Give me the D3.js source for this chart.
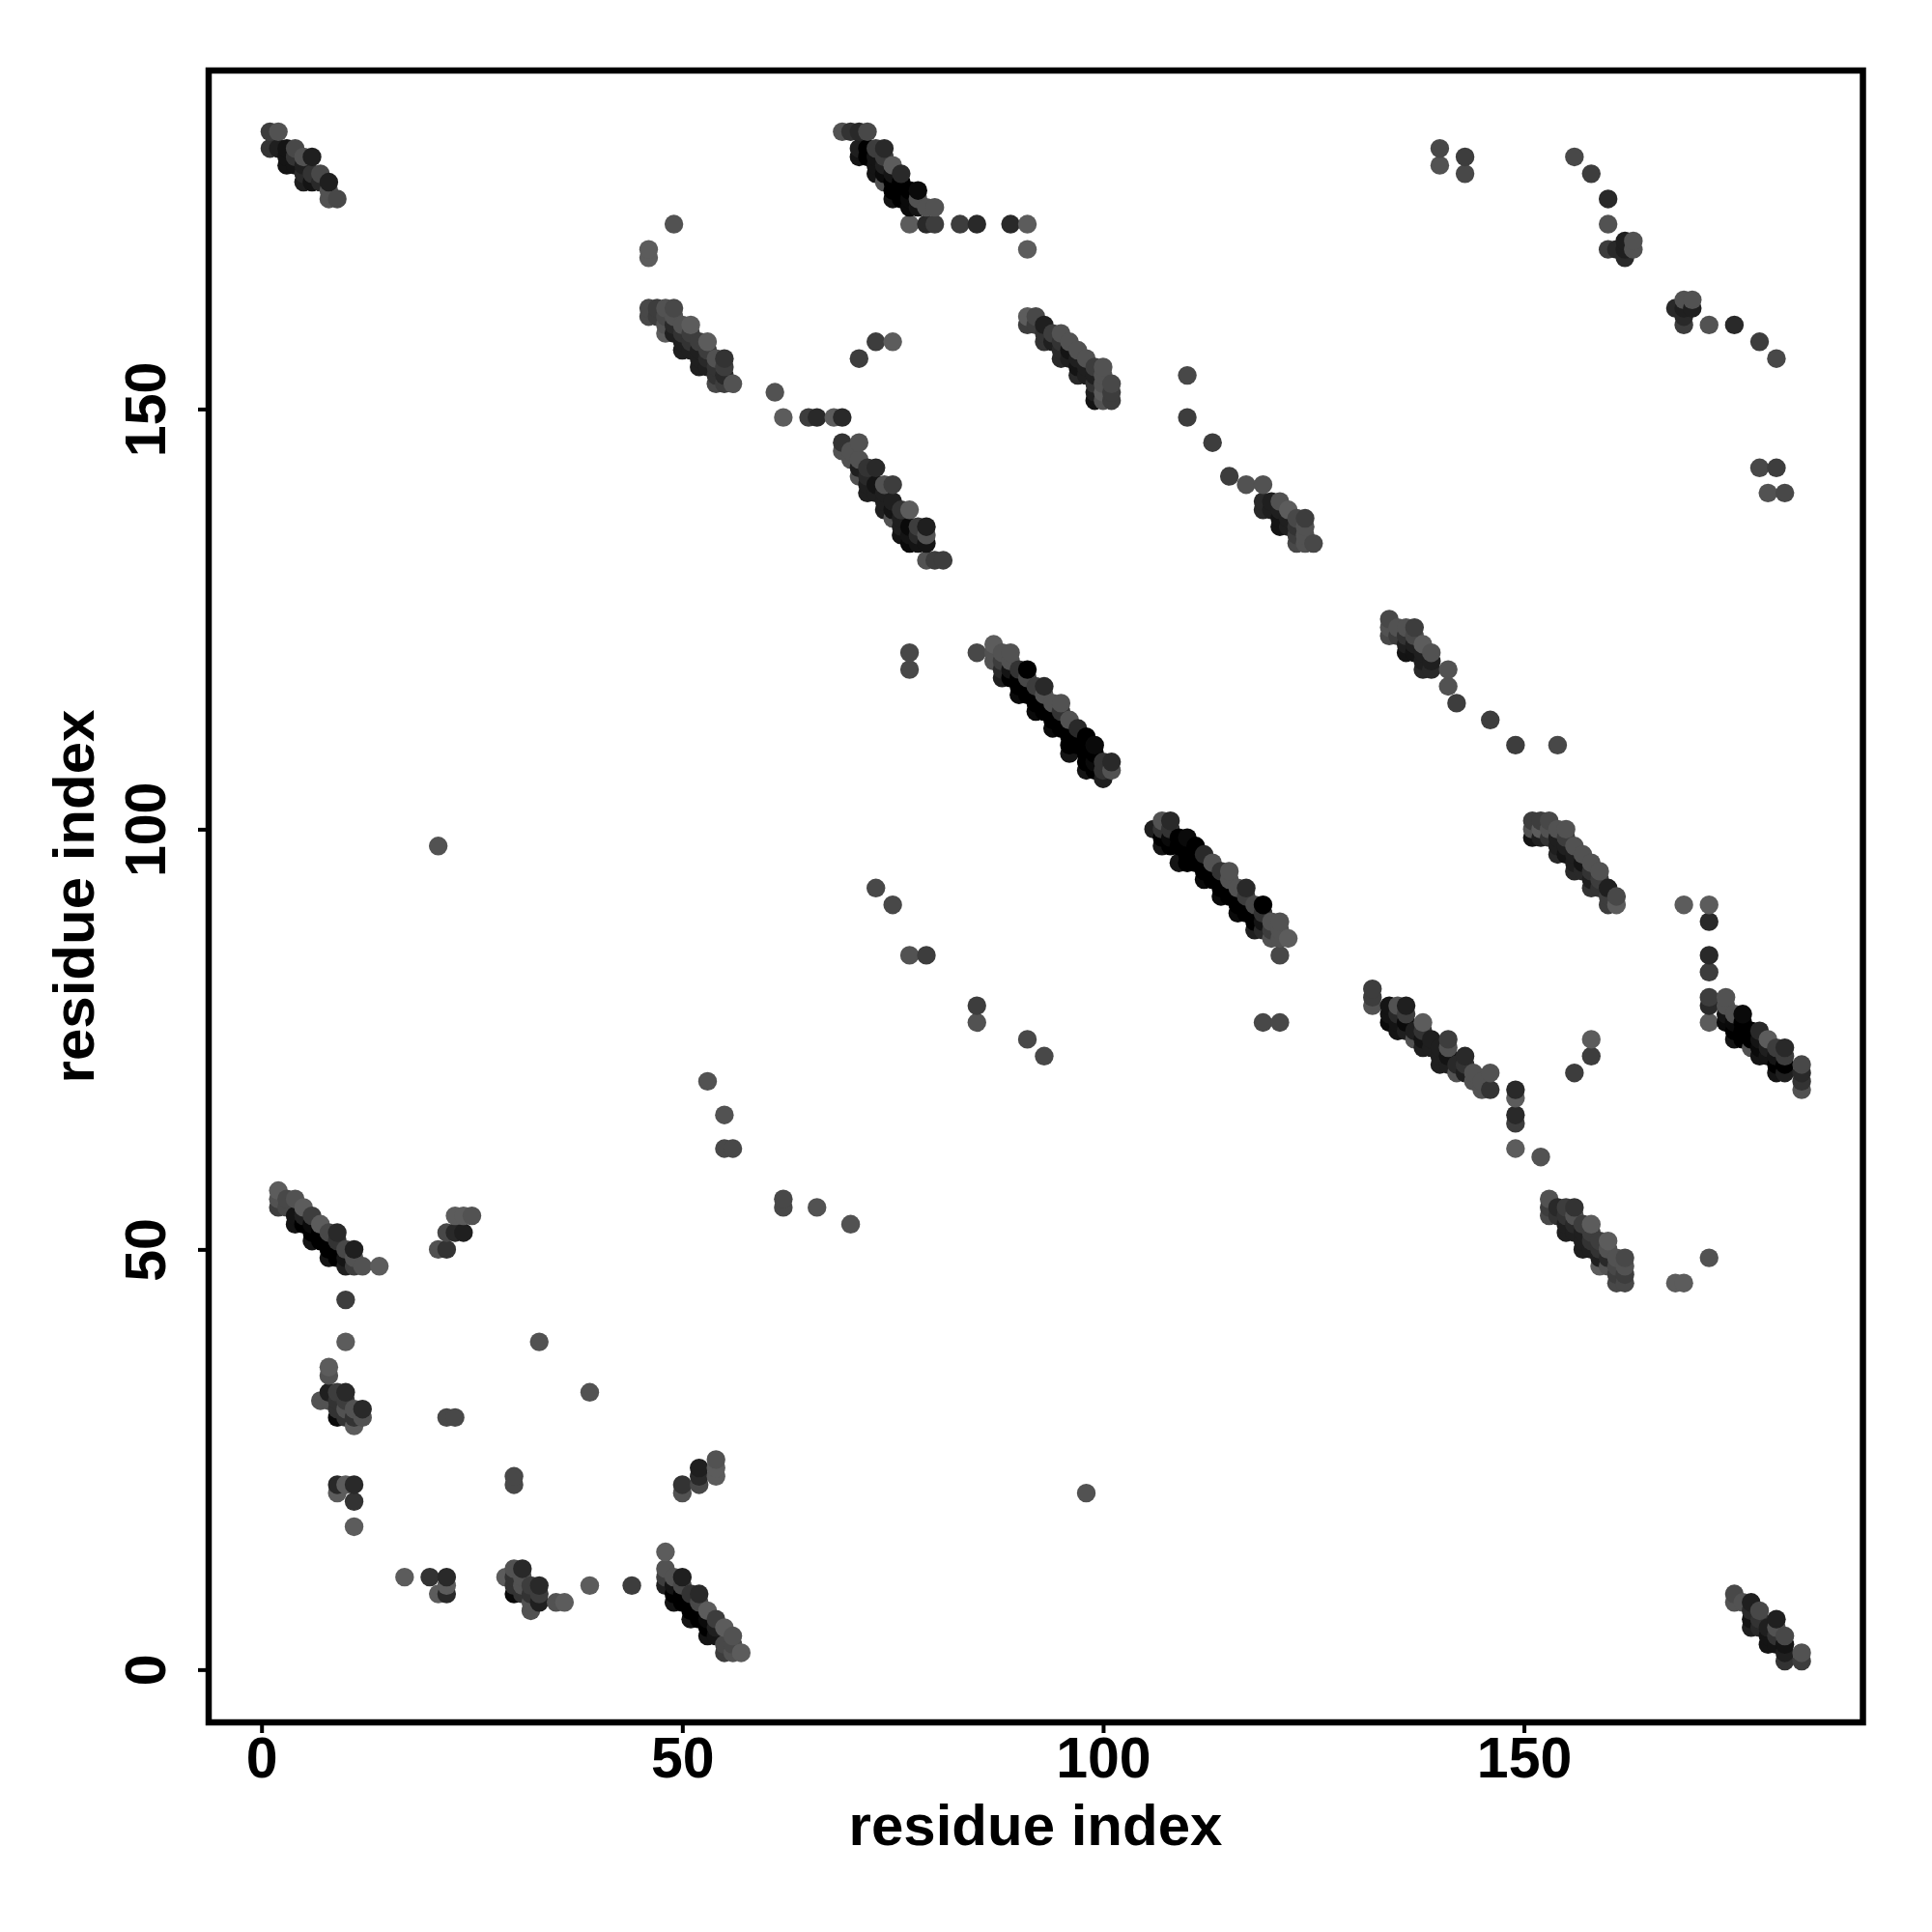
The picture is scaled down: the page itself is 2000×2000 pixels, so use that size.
<!DOCTYPE html>
<html>
<head>
<meta charset="utf-8">
<script src="https://cdn.jsdelivr.net/npm/d3@7/dist/d3.min.js"></script>
<style>html,body{margin:0;padding:0;background:#fff}svg{display:block}</style>
</head>
<body>
<div id="chart"></div>
<script>
// Contacts of a symmetric residue map: [i, j, depth], i < j. Depth 0 (grey) .. 9 (black).
const terminalSheet = [[1,183,3],[2,183,1],[1,181,4],[2,181,6],[3,181,7],[4,181,2],[3,180,7],[4,180,4],[5,180,1],[6,180,6],[3,179,7],[4,179,7],[5,179,6],[5,178,5],[6,178,4],[7,178,2],[5,177,6],[6,177,7],[7,177,5],[8,177,6],[8,176,1],[8,175,1],[9,175,2]];
const strandPair1 = [[2,57,0],[2,56,1],[2,55,3],[3,56,2],[3,55,2],[4,56,1],[4,54,7],[4,53,7],[5,55,0],[5,54,6],[5,53,9],[6,54,3],[6,53,8],[6,52,9],[6,51,7],[7,53,0],[7,52,9],[7,51,9],[8,52,2],[8,51,9],[8,50,9],[8,49,7],[9,52,5],[9,51,4],[9,50,9],[9,49,9],[10,50,2],[10,49,7],[10,48,6],[11,50,6],[11,49,1],[11,48,3],[12,48,1],[14,48,0]];
const lowPatch = [[7,32,1],[8,36,0],[8,35,1],[8,33,6],[8,32,1],[9,33,3],[9,32,4],[9,31,4],[9,30,8],[10,33,5],[10,32,3],[10,31,1],[10,30,4],[11,31,1],[11,30,4],[11,29,0],[12,31,5],[12,30,1],[10,39,0],[10,44,3],[9,21,0],[9,22,5],[10,22,0],[11,22,5],[11,20,4],[11,17,0],[21,50,1],[22,50,4],[22,52,2],[23,52,5],[24,52,6],[23,54,0],[24,54,0],[25,54,1],[22,30,2],[23,30,2],[21,98,1],[33,39,1]];
const strandPair2 = [[46,169,0],[46,168,0],[49,172,1],[46,162,2],[46,161,2],[47,162,3],[47,161,3],[48,162,1],[48,161,2],[48,160,1],[48,159,0],[49,162,2],[49,161,1],[49,160,5],[49,159,6],[50,160,1],[50,159,4],[50,158,6],[50,157,6],[51,160,0],[51,159,3],[51,158,4],[51,157,6],[52,158,3],[52,157,6],[52,156,6],[52,155,6],[53,158,0],[53,157,3],[53,156,5],[53,155,6],[54,156,1],[54,155,4],[54,154,4],[54,153,2],[55,156,4],[55,155,3],[55,154,5],[55,153,3],[56,153,1]];
const scattered = [[53,70,1],[55,66,1],[55,62,2],[56,62,2],[61,152,1],[62,149,0],[65,149,3],[66,149,5],[68,149,0],[69,149,5],[71,156,3],[73,158,3],[75,158,0],[73,93,2],[75,91,2],[77,85,1],[79,85,3],[77,119,2],[77,121,2],[85,121,2],[110,154,2],[110,149,3],[113,146,3],[115,142,3],[140,181,2],[140,179,1],[143,180,3],[143,178,2],[156,180,2],[158,178,3],[160,175,5],[160,172,1],[160,169,3],[161,169,5],[162,170,6],[162,169,6],[162,168,5],[163,170,1],[163,169,1]];
const strandPair3 = [[69,146,4],[69,145,1],[70,145,1],[70,144,1],[71,146,1],[71,144,1],[71,143,6],[71,142,1],[72,143,4],[72,142,5],[72,141,6],[72,140,6],[73,143,5],[73,141,7],[73,140,6],[74,141,1],[74,140,6],[74,139,6],[74,138,6],[75,141,3],[75,139,6],[75,138,7],[75,137,1],[76,138,4],[76,137,6],[76,136,6],[76,135,7],[77,138,0],[77,136,8],[77,135,7],[77,134,8],[78,136,3],[78,135,5],[78,134,7],[79,136,6],[79,135,1],[79,134,7],[79,132,1],[80,132,3],[81,132,3]];
const strandPair4 = [[69,183,1],[70,183,4],[71,183,5],[72,183,2],[71,181,6],[71,180,7],[72,181,9],[72,180,9],[73,181,3],[73,180,7],[73,179,7],[73,178,7],[74,181,5],[74,180,3],[74,179,6],[74,178,8],[74,177,1],[75,179,0],[75,178,7],[75,177,9],[75,176,9],[75,175,7],[76,178,5],[76,177,9],[76,176,9],[76,175,9],[77,176,9],[77,175,8],[77,174,8],[77,172,0],[78,176,8],[78,175,1],[78,174,7],[79,174,1],[79,172,5],[80,174,1],[80,172,3],[83,172,3],[85,172,5],[89,172,5],[91,172,0],[91,169,0]];
const strandPair5 = [[91,161,0],[92,161,2],[91,160,3],[92,160,3],[93,160,6],[93,159,4],[93,158,4],[94,159,3],[95,159,1],[94,158,6],[95,158,4],[96,158,1],[95,157,5],[95,156,5],[96,157,7],[96,156,6],[97,157,1],[97,156,6],[98,156,1],[97,155,7],[97,154,5],[98,155,6],[98,154,6],[99,155,3],[100,155,1],[99,154,6],[100,154,1],[99,153,4],[99,152,6],[99,151,7],[100,153,1],[101,153,2],[100,152,0],[100,151,1],[101,152,3],[101,151,3]];
const strandPair6 = [[87,122,0],[87,121,1],[87,120,1],[88,121,1],[88,120,3],[88,119,5],[88,118,6],[89,121,1],[89,120,1],[89,119,7],[89,118,9],[90,119,4],[90,118,9],[90,117,9],[90,116,8],[91,119,9],[91,118,2],[91,117,9],[91,116,9],[92,117,3],[92,116,9],[92,115,9],[92,114,8],[93,117,5],[93,116,1],[93,115,9],[93,114,9],[94,115,1],[94,114,9],[94,113,9],[94,112,8],[95,115,1],[95,114,4],[95,113,9],[95,112,9],[96,113,1],[96,112,9],[96,111,9],[96,110,9],[96,109,7],[97,112,5],[97,111,9],[97,110,9],[98,111,9],[98,110,9],[98,109,9],[98,108,9],[98,107,7],[99,110,8],[99,109,9],[99,108,8],[99,107,9],[100,108,4],[100,107,4],[100,106,6],[101,108,5],[101,107,1]];
const strandPair7 = [[117,141,1],[119,141,1],[119,139,5],[119,138,5],[120,139,6],[120,138,6],[121,139,1],[121,138,6],[121,137,7],[121,136,7],[122,138,0],[122,137,6],[122,136,6],[123,137,2],[123,136,4],[123,135,3],[123,134,2],[124,137,3],[124,136,1],[124,135,1],[124,134,1],[125,134,2]];
const axisTicks = [0, 50, 100, 150];
const axisLabel = "residue index";

const contacts = [terminalSheet, strandPair1, lowPatch, strandPair2, scattered, strandPair3, strandPair4, strandPair5, strandPair6, strandPair7].flat();
const points = contacts.flatMap(([i, j, d]) => [{x: i, y: j, d}, {x: j, y: i, d}])
  .sort((a, b) => d3.ascending(a.x, b.x) || d3.ascending(a.y, b.y));

const svg = d3.select("#chart").append("svg").attr("width", 2000).attr("height", 2000);
const x = d3.scaleLinear().domain([-6.28, 190.28]).range([216, 1928.5]);
const y = d3.scaleLinear().domain([-6.28, 190.28]).range([1783, 73]);
const grey = d3.scaleLinear().domain([0, 9]).range(["#5c5c5c", "#000000"]);

svg.append("g").selectAll("circle").data(points).join("circle")
  .attr("cx", d => x(d.x)).attr("cy", d => y(d.y)).attr("r", 9.7).attr("fill", d => grey(d.d));

const font = "'Liberation Sans', Arial, sans-serif";
const xAxis = svg.append("g").attr("transform", "translate(0,1783)")
  .call(d3.axisBottom(x).tickValues(axisTicks).tickFormat(d3.format("d")).tickSize(11));
const yAxis = svg.append("g").attr("transform", "translate(216,0)")
  .call(d3.axisLeft(y).tickValues(axisTicks).tickFormat(d3.format("d")).tickSize(11));
[xAxis, yAxis].forEach(a => {
  a.select(".domain").remove();
  a.selectAll("line").attr("stroke", "#000").attr("stroke-width", 4);
  a.selectAll("text").attr("font-family", font).attr("font-weight", "bold").attr("font-size", 59).attr("fill", "#000");
});
xAxis.selectAll("text").attr("y", 57).attr("dy", 0).attr("text-anchor", "middle");
yAxis.selectAll("text").attr("transform", "rotate(-90)").attr("x", 0).attr("y", -45).attr("dy", 0).attr("text-anchor", "middle");

svg.append("rect").attr("x", 216).attr("y", 73).attr("width", 1712.5).attr("height", 1710)
  .attr("fill", "none").attr("stroke", "#000").attr("stroke-width", 6.5);

svg.append("text").attr("x", 1072).attr("y", 1910).attr("text-anchor", "middle")
  .attr("font-family", font).attr("font-weight", "bold").attr("font-size", 60).text(axisLabel);
svg.append("text").attr("transform", "translate(97,928) rotate(-90)").attr("text-anchor", "middle")
  .attr("font-family", font).attr("font-weight", "bold").attr("font-size", 60).text(axisLabel);
</script>
</body>
</html>
